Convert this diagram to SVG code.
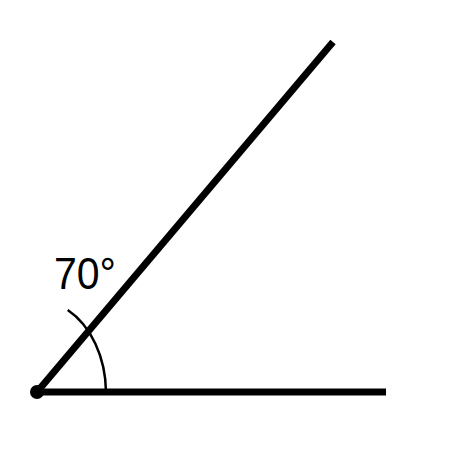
<svg xmlns="http://www.w3.org/2000/svg" width="450" height="450" viewBox="0 0 450 450">
<style>
.ray{stroke:#000;stroke-width:7;fill:none;stroke-linecap:butt}
.arc{stroke:#000;stroke-width:2.5;fill:none}
.lbl{font-family:"Liberation Sans",Arial,sans-serif;font-size:44px;fill:#000}
</style>
<rect width="450" height="450" fill="#fff"/>
<g id="connectors">
<line class="ray" x1="37" y1="392" x2="386" y2="392"/>
<line class="ray" x1="37" y1="392" x2="333" y2="42"/>
<path id="angle-arc" class="arc" d="M106,392 A69,93 0 0 0 67.7,310"/>
</g>
<g id="vertex"><circle cx="37" cy="392" r="7" fill="#000"/></g>
<g id="label"><text class="lbl" x="54" y="289" textLength="62" lengthAdjust="spacingAndGlyphs">70°</text></g>
</svg>
